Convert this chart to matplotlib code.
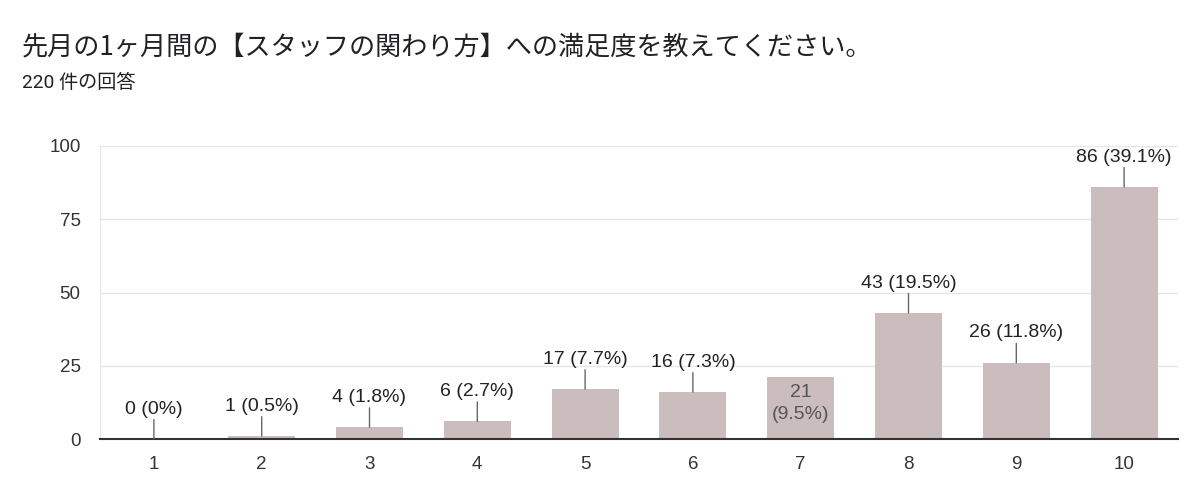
import matplotlib
matplotlib.use('Agg')
import matplotlib.pyplot as plt

# data
scores = ['1', '2', '3', '4', '5', '6', '7', '8', '9', '10']
counts = [0, 1, 4, 6, 17, 16, 21, 43, 26, 86]
pcts = ['0%', '0.5%', '1.8%', '2.7%', '7.7%', '7.3%', '9.5%', '19.5%', '11.8%', '39.1%']
yticks = [0, 25, 50, 75, 100]

title = '先月の1ヶ月間の【スタッフの関わり方】への満足度を教えてください。'
subtitle = '220 件の回答'

fonts = ['Liberation Sans', 'Noto Sans CJK JP', 'DejaVu Sans']
plt.rcParams['font.family'] = fonts

bar_color = '#cbbdbd'
text_color = '#222222'

fig = plt.figure(figsize=(12, 4.98), dpi=100)
ax = fig.add_axes([100/1200, 1-439/498, 1078/1200, 293/498])

x = list(range(1, len(scores) + 1))
ax.bar(x, counts, width=0.62, color=bar_color, zorder=2)

ax.set_xlim(0.5, len(scores) + 0.5)
ax.set_ylim(0, 100)
ax.set_yticks(yticks)
ax.set_xticks(x)
ax.set_xticklabels(scores)
ax.tick_params(axis='both', length=0, labelsize=13.5, colors='#333333')
ax.tick_params(axis='x', pad=12)
ax.tick_params(axis='y', pad=14)
ax.grid(axis='y', color='#e6e6e6', linewidth=1, zorder=0)

for s in ['top', 'right']:
    ax.spines[s].set_visible(False)
ax.spines['left'].set_color('#e6e6e6')
ax.spines['bottom'].set_color('#333333')
ax.spines['bottom'].set_linewidth(1.5)
ax.spines['bottom'].set_zorder(3)

for xi, c, p in zip(x, counts, pcts):
    if c == 21:
        # label fits inside this bar in the reference
        ax.annotate(f'{c}\n({p})', xy=(xi, c), xytext=(0, -18.7), textcoords='offset points',
                    ha='center', va='center', fontsize=14, color='#555555',
                    linespacing=1.45, zorder=4)
        continue
    ax.annotate('', xy=(xi, c), xytext=(0, 14), textcoords='offset points',
                arrowprops=dict(arrowstyle='-', color='#666666', lw=1,
                                shrinkA=0, shrinkB=0), zorder=4)
    ax.annotate(f'{c} ({p})', xy=(xi, c), xytext=(0, 21.5), textcoords='offset points',
                ha='center', va='center', fontsize=14, color=text_color, zorder=4)

fig.text(22/1200, 1-47/498, title, fontsize=18.8, color='#202124',
         va='center', ha='left', family=['Noto Sans CJK JP', 'DejaVu Sans'])
fig.text(22/1200, 1-83/498, subtitle, fontsize=13.8, color='#202124',
         va='center', ha='left', family=['Roboto', 'Noto Sans CJK JP', 'DejaVu Sans'])

fig.savefig('out.png', dpi=100, facecolor='white')
